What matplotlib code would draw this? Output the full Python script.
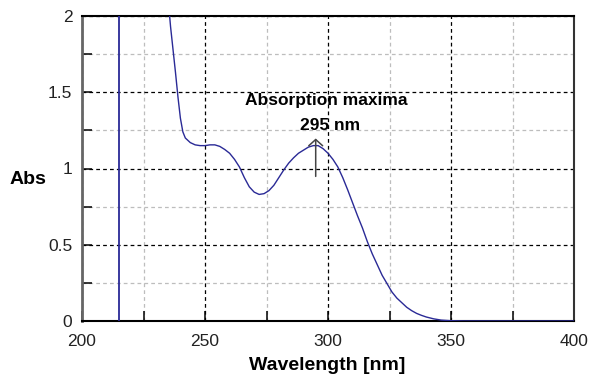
import matplotlib
matplotlib.use("Agg")
import matplotlib.pyplot as plt
from matplotlib.ticker import MultipleLocator

plt.rcParams['font.family'] = ['Liberation Sans', 'DejaVu Sans']

wavelength = [234.8, 236, 237, 238, 239, 240, 241, 242, 244, 246, 248, 250, 252, 254,
              256, 258, 260, 262, 264, 266, 268, 270, 272, 274, 276, 278, 280, 282,
              284, 286, 288, 290, 292, 294, 296, 298, 300, 302, 304, 306, 308, 310,
              312, 314, 316, 318, 320, 322, 324, 326, 328, 330, 332, 334, 336, 338,
              340, 343, 346, 350, 355, 400]
absorbance = [2.15, 1.93, 1.78, 1.63, 1.47, 1.33, 1.24, 1.20, 1.17, 1.155, 1.15, 1.15,
              1.155, 1.155, 1.145, 1.125, 1.10, 1.06, 1.01, 0.94, 0.88, 0.845, 0.83,
              0.835, 0.855, 0.89, 0.94, 0.99, 1.035, 1.07, 1.10, 1.12, 1.14, 1.15,
              1.15, 1.13, 1.10, 1.06, 1.01, 0.94, 0.86, 0.775, 0.69, 0.61, 0.52,
              0.44, 0.37, 0.30, 0.245, 0.19, 0.15, 0.12, 0.09, 0.068, 0.05, 0.037,
              0.026, 0.014, 0.006, 0.002, 0.0, 0.0]
marker_wl = 215
peak_wl = 295
x_ticks = [200, 250, 300, 350, 400]
y_ticks = [0, 0.5, 1, 1.5, 2]
y_tick_labels = ['0', '0.5', '1', '1.5', '2']

fig = plt.figure(figsize=(5.92, 3.74), dpi=100)
ax = fig.add_axes([82/592, 1-321/374, 492/592, 305/374])

line_color = '#2a2a96'
ax.plot(wavelength, absorbance, color=line_color, lw=1.0, zorder=3)
ax.plot([marker_wl, marker_wl], [0, 2], color=line_color, lw=1.3, zorder=3)

ax.set_xlim(200, 400)
ax.set_ylim(0, 2)
ax.set_xticks(x_ticks)
ax.set_yticks(y_ticks)
ax.set_yticklabels(y_tick_labels)
ax.xaxis.set_minor_locator(MultipleLocator(25))
ax.yaxis.set_minor_locator(MultipleLocator(0.25))

ax.grid(which='major', color='black', linestyle=(0, (3, 2.5)), lw=0.9, zorder=1)
ax.grid(which='minor', color='#bdbdbd', linestyle=(0, (3, 2.5)), lw=0.9, zorder=1)

ax.tick_params(which='both', direction='in', length=7, width=1.1, colors='black',
               labelsize=12.5, top=False, right=False)
ax.tick_params(axis='x', pad=9)
ax.tick_params(axis='y', pad=7)
for lbl in ax.get_xticklabels() + ax.get_yticklabels():
    lbl.set_color('#222222')

ax.spines['left'].set_color('#666666')
ax.spines['left'].set_linewidth(2.0)
ax.spines['bottom'].set_linewidth(1.5)
ax.spines['top'].set_linewidth(1.5)
ax.spines['right'].set_linewidth(1.5)
ax.spines['right'].set_color('#333333')

# annotation arrow
ax.annotate('', xy=(peak_wl, 1.215), xytext=(peak_wl, 0.93),
            arrowprops=dict(arrowstyle='->,head_length=0.45,head_width=0.5',
                            color='#444444', lw=1.1), zorder=4)
ax.text(299.2, 1.449, 'Absorption maxima', ha='center', va='center',
        fontsize=12.5, fontweight='bold', color='black', zorder=5)
ax.text(301, 1.285, '295 nm', ha='center', va='center',
        fontsize=12.5, fontweight='bold', color='black', zorder=5)

fig.text(27.7/592, 1-179/374, 'Abs', ha='center', va='center',
         fontsize=14, fontweight='bold')
fig.text(327/592, 1-365/374, 'Wavelength [nm]', ha='center', va='center',
         fontsize=14, fontweight='bold')

fig.savefig('out.png', dpi=100)
